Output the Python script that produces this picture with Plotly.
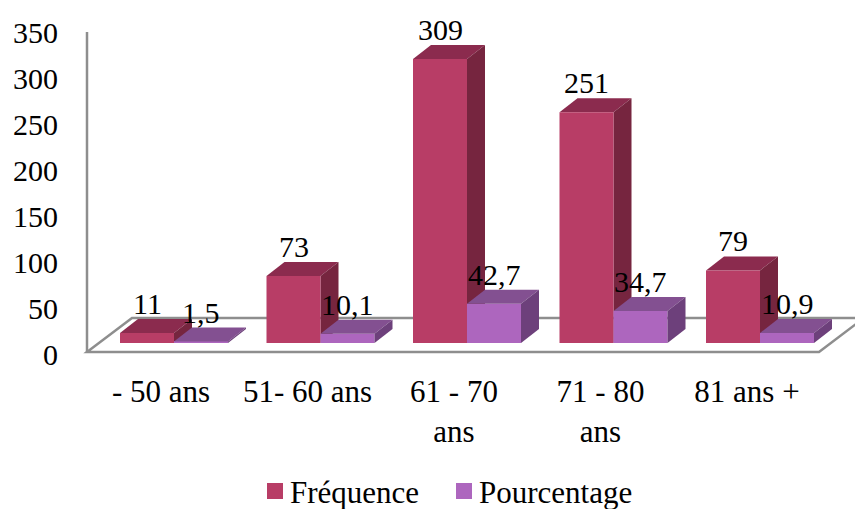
import plotly.graph_objects as go

# Age groups and the two series
categories = ["- 50 ans", "51- 60 ans", "61 - 70<br>ans", "71 - 80<br>ans", "81 ans +"]
frequence = [11, 73, 309, 251, 79]
pourcentage = [1.5, 10.1, 42.7, 34.7, 10.9]
y_ticks = [0, 50, 100, 150, 200, 250, 300, 350]
series_names = ["Fréquence", "Pourcentage"]

# Face colours (front, top, side) for the pseudo-3D columns
RED = {"front": "#B83D66", "top": "#8B2B4E", "side": "#76253F"}
PURPLE = {"front": "#AD66BE", "top": "#835091", "side": "#6D407B"}
GRID = "#8E8E8E"
FONT = "Liberation Serif"

# Canvas / plot-area geometry (pixels)
W, H = 855, 509
ML, MB = 62, 149
PLOT_W, PLOT_H = W - ML, H - MB
BASE_PX = 343          # row where column bases sit
PX_PER_UNIT = 0.919    # vertical pixels per value unit
CAT_PX = 146.5         # spacing between category groups
CAT0_PX = 174          # x of the first group centre

x_range = [(ML - CAT0_PX) / CAT_PX, (W - CAT0_PX) / CAT_PX]
y_range = [(BASE_PX - PLOT_H) / PX_PER_UNIT, BASE_PX / PX_PER_UNIT]

BW = 54 / CAT_PX               # column width in category units
DX = 18 / CAT_PX               # depth offset (horizontal)
DY = 14 / PX_PER_UNIT          # depth offset (vertical, value units)
FLOOR_DX = 45 / CAT_PX
FLOOR_DY = 34 / PX_PER_UNIT
FLOOR_FRONT = -9 / PX_PER_UNIT
FLOOR_LEFT = (87 - CAT0_PX) / CAT_PX
FLOOR_RIGHT = (819 - CAT0_PX) / CAT_PX
AXIS_TOP = (BASE_PX - 32) / PX_PER_UNIT


def poly(pts):
    return "M " + " L ".join(f"{x:.5f},{y:.5f}" for x, y in pts) + " Z"


def px_to_paper_x(px):
    return (px - ML) / PLOT_W


def py_to_paper_y(py):
    return (PLOT_H - py) / PLOT_H


xs = list(range(len(categories)))
fig = go.Figure()

# Front faces of the columns
fig.add_trace(go.Bar(x=xs, y=frequence, width=BW, offset=-BW, name=series_names[0],
                     marker=dict(color=RED["front"], line=dict(width=0)),
                     showlegend=False, hoverinfo="skip"))
fig.add_trace(go.Bar(x=xs, y=pourcentage, width=BW, offset=0, name=series_names[1],
                     marker=dict(color=PURPLE["front"], line=dict(width=0)),
                     showlegend=False, hoverinfo="skip"))

shapes = []
# Floor of the 3D box
shapes.append(dict(type="path", xref="x", yref="y", layer="below",
                   path=poly([(FLOOR_LEFT, FLOOR_FRONT), (FLOOR_RIGHT, FLOOR_FRONT),
                              (FLOOR_RIGHT + FLOOR_DX, FLOOR_FRONT + FLOOR_DY),
                              (FLOOR_LEFT + FLOOR_DX, FLOOR_FRONT + FLOOR_DY)]),
                   fillcolor="white", line=dict(color=GRID, width=2.5)))
# Vertical axis line
shapes.append(dict(type="line", xref="x", yref="y", layer="below",
                   x0=FLOOR_LEFT, x1=FLOOR_LEFT, y0=FLOOR_FRONT, y1=AXIS_TOP,
                   line=dict(color=GRID, width=2.5)))


def column_faces(left, v, colors, layer):
    right = left + BW
    top = poly([(left, v), (left + DX, v + DY), (right + DX, v + DY), (right, v)])
    side = poly([(right, 0), (right + DX, DY), (right + DX, v + DY), (right, v)])
    return [
        dict(type="path", xref="x", yref="y", layer=layer, path=top,
             fillcolor=colors["top"], line=dict(width=0)),
        dict(type="path", xref="x", yref="y", layer=layer, path=side,
             fillcolor=colors["side"], line=dict(width=0)),
    ]


# Fréquence tops/sides sit behind the Pourcentage columns
for i, v in zip(xs, frequence):
    shapes += column_faces(i - BW, v, RED, "below")
for i, v in zip(xs, pourcentage):
    shapes += column_faces(i, v, PURPLE, "above")

# Legend swatches
legend_items = [(267, series_names[0], RED["front"]), (456, series_names[1], PURPLE["front"])]
for sx, _, col in legend_items:
    shapes.append(dict(type="rect", xref="paper", yref="paper",
                       x0=px_to_paper_x(sx), x1=px_to_paper_x(sx + 16),
                       y0=py_to_paper_y(499), y1=py_to_paper_y(483),
                       fillcolor=col, line=dict(width=0)))

annotations = []
# Value labels above each column
for i, v in zip(xs, frequence):
    annotations.append(dict(x=i - BW / 2, y=v + DY, xref="x", yref="y",
                            text=str(v), showarrow=False, yanchor="bottom", yshift=-3,
                            font=dict(family=FONT, size=30, color="black")))
for i, v in zip(xs, pourcentage):
    annotations.append(dict(x=i + BW / 2, y=v + DY, xref="x", yref="y",
                            text=f"{v:.1f}".replace(".", ","), showarrow=False,
                            yanchor="bottom", yshift=-3,
                            font=dict(family=FONT, size=30, color="black")))
# Legend labels
for sx, name, _ in legend_items:
    annotations.append(dict(x=px_to_paper_x(sx + 21), y=py_to_paper_y(492),
                            xref="paper", yref="paper", text=name, showarrow=False,
                            xanchor="left", yanchor="middle",
                            font=dict(family=FONT, size=31, color="black")))

fig.update_layout(
    width=W, height=H,
    margin=dict(l=ML, r=0, t=0, b=MB, pad=0),
    paper_bgcolor="white", plot_bgcolor="white",
    barmode="overlay", showlegend=False,
    shapes=shapes, annotations=annotations,
    font=dict(family=FONT, size=30, color="black"),
    xaxis=dict(range=x_range, tickvals=xs, ticktext=categories,
               showgrid=False, zeroline=False, showline=False, ticks="",
               ticklabelshift=-13, ticklabelstandoff=10,
               tickfont=dict(family=FONT, size=31, color="black"),
               fixedrange=True),
    yaxis=dict(range=y_range, tickvals=y_ticks, showgrid=False, zeroline=False,
               showline=False, ticks="", ticklabelshift=11, ticklabelstandoff=3,
               tickfont=dict(family=FONT, size=30, color="black"), fixedrange=True),
)

fig.write_html("out.html")
